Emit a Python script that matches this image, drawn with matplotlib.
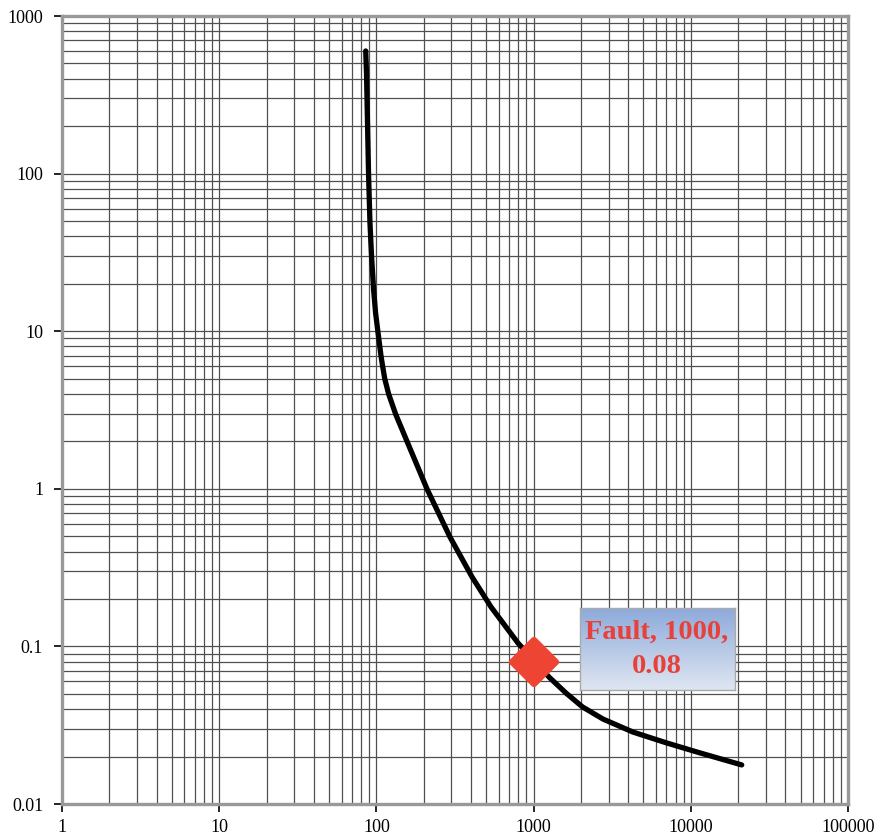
import matplotlib.pyplot as plt
import numpy as np
from matplotlib.markers import MarkerStyle
from matplotlib.ticker import LogLocator, NullFormatter

# curve (current vs time)
curve_x = [85.5, 86.5, 87.8, 89.1, 91.0, 93.2, 96.0, 98.8, 102.1, 107.0,
           109.5, 113.1, 119.6, 132.5, 156.6, 209.9, 293.9, 405.7, 535.8,
           795.9, 1253, 1607, 2047, 2763, 4289, 7025, 11440, 21080]
curve_y = [600, 435, 209.5, 100.9, 48.6, 29.6, 18.3, 13.05, 10.03, 6.96,
           6.01, 4.97, 4.0, 2.98, 2.0, 0.997, 0.494, 0.276, 0.178,
           0.105, 0.0639, 0.0506, 0.0413, 0.0346, 0.0286, 0.0244, 0.0211, 0.0177]

fault_x = 1000
fault_y = 0.08
fault_label = "Fault, 1000,\n0.08"

x_ticks = [1, 10, 100, 1000, 10000, 100000]
x_labels = ["1", "10", "100", "1000", "10000", "100000"]
y_ticks = [0.01, 0.1, 1, 10, 100, 1000]
y_labels = ["0.01", "0.1", "1", "10", "100", "1000"]

plt.rcParams["font.family"] = ["Liberation Serif", "DejaVu Serif"]

fig = plt.figure(figsize=(8.9, 8.38), dpi=100)
ax = fig.add_axes([62 / 890, 1 - 804 / 838, (848 - 62) / 890, (804 - 16) / 838])

ax.set_xscale("log")
ax.set_yscale("log")
ax.set_xlim(1, 100000)
ax.set_ylim(0.01, 1000)

ax.xaxis.set_minor_locator(LogLocator(base=10, subs=np.arange(2, 10)))
ax.yaxis.set_minor_locator(LogLocator(base=10, subs=np.arange(2, 10)))
ax.xaxis.set_minor_formatter(NullFormatter())
ax.yaxis.set_minor_formatter(NullFormatter())
ax.set_xticks(x_ticks, x_labels)
ax.set_yticks(y_ticks, y_labels)
ax.grid(True, which="both", color="#505050", linewidth=0.9)
ax.set_axisbelow(True)

ax.tick_params(axis="both", which="major", direction="out", length=5.5,
               width=1.2, color="black", labelsize=13)
ax.tick_params(axis="x", which="major", pad=5)
ax.tick_params(axis="y", which="major", pad=8)
ax.tick_params(axis="both", which="minor", length=0)

for side in ["top", "bottom", "left", "right"]:
    ax.spines[side].set_color("#999999")
    ax.spines[side].set_linewidth(2.4)
    ax.spines[side].set_zorder(3)

ax.plot(curve_x, curve_y, color="black", linewidth=3.8,
        solid_capstyle="round", solid_joinstyle="round", zorder=4)

diamond = MarkerStyle("D", joinstyle="round")
ax.plot([fault_x], [fault_y], marker=diamond, markersize=22, color="#ee4433",
        markeredgecolor="#ee4433", markeredgewidth=4.5, zorder=5,
        linestyle="none")

# label box with a vertical gradient, placed relative to the fault point
px, py = ax.transData.transform((fault_x, fault_y))
W, H = fig.get_size_inches() * fig.dpi
box_left = (px + 46) / W
box_bottom = (py - 28) / H
box_w = 155 / W
box_h = 82 / H
lab = fig.add_axes([box_left, box_bottom, box_w, box_h])
top_col = np.array([142, 170, 219]) / 255
bot_col = np.array([222, 230, 241]) / 255
t = np.linspace(0, 1, 100)[:, None]
grad = (top_col * (1 - t) + bot_col * t)[:, None, :]
lab.imshow(grad, aspect="auto", extent=[0, 1, 0, 1])
lab.set_xticks([])
lab.set_yticks([])
for side in lab.spines.values():
    side.set_color("#aaaaaa")
    side.set_linewidth(1)
lab.text(0.5, 0.49, fault_label, ha="center", va="center", color="#e8413a",
         fontsize=20.5, fontweight="bold", linespacing=1.5,
         transform=lab.transAxes)

fig.savefig("out.png", dpi=100)
